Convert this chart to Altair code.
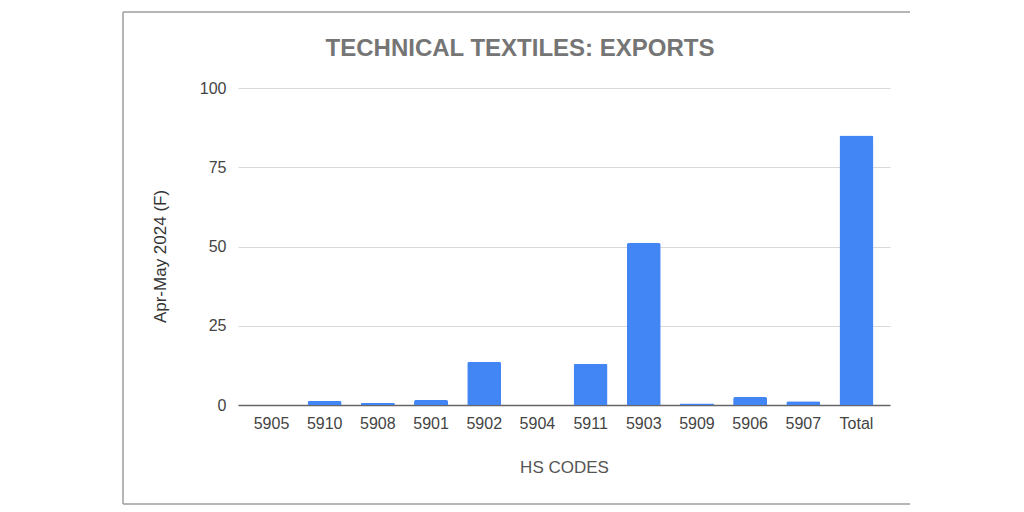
import altair as alt
import pandas as pd

# HS codes and their export values (Apr-May 2024, F)
codes = ["5905", "5910", "5908", "5901", "5902", "5904", "5911", "5903", "5909", "5906", "5907", "Total"]
values = [0.0, 1.3, 0.6, 1.6, 13.6, 0.1, 13.0, 51.1, 0.5, 2.5, 1.2, 85.0]
y_ticks = [0, 25, 50, 75, 100]
title_text = "TECHNICAL TEXTILES: EXPORTS"

df = pd.DataFrame({"code": codes, "value": values})

W, H = 652, 317
FONT = "Liberation Sans"

bars = alt.Chart(df).mark_bar(
    color="#4285F4", cornerRadiusTopLeft=2, cornerRadiusTopRight=2, size=34
).encode(
    x=alt.X("code:N", sort=codes, title="HS CODES",
            scale=alt.Scale(paddingInner=0.37, paddingOuter=0.315),
            axis=alt.Axis(labelAngle=0, ticks=False, domainColor="#666666", domainWidth=1.5,
                          labelColor="#444444", labelFontSize=16, labelFont=FONT, labelPadding=10,
                          titleColor="#555555", titleFontSize=17, titleFont=FONT,
                          titleFontWeight="normal", titlePadding=28)),
    y=alt.Y("value:Q", title="Apr-May  2024 (F)",
            scale=alt.Scale(domain=[0, 100]),
            axis=alt.Axis(values=y_ticks, ticks=False, domain=False, gridColor="#d9d9d9",
                          labelColor="#444444", labelFontSize=16, labelFont=FONT, labelPadding=12,
                          titleColor="#333333", titleFontSize=17, titleFont=FONT,
                          titleFontWeight="normal", titlePadding=30, titleY=168)),
)

one = pd.DataFrame({"t": [title_text]})

# chart heading, centred over the framed area
heading = alt.Chart(one).mark_text(
    font=FONT, fontSize=24, fontWeight="bold", color="#757575", align="center", baseline="middle"
).encode(text="t:N", x=alt.value(282), y=alt.value(-39))

# outer frame: left, top and bottom edges
left = alt.Chart(one).mark_rule(color="#9e9e9e", strokeWidth=1.5).encode(
    x=alt.value(-115), y=alt.value(-76), y2=alt.value(416))
top = alt.Chart(one).mark_rule(color="#9e9e9e", strokeWidth=1.5).encode(
    x=alt.value(-115), x2=alt.value(672), y=alt.value(-76))
bottom = alt.Chart(one).mark_rule(color="#9e9e9e", strokeWidth=1.5).encode(
    x=alt.value(-115), x2=alt.value(672), y=alt.value(416))

chart = alt.layer(bars, heading, left, top, bottom).properties(
    width=W, height=H,
    autosize=alt.AutoSizeParams(type="none"),
    padding={"left": 238, "top": 88, "right": 134, "bottom": 107},
).configure(background="white").configure_view(stroke=None)

chart.save("out.html", embed_options={"renderer": "svg", "actions": False})
